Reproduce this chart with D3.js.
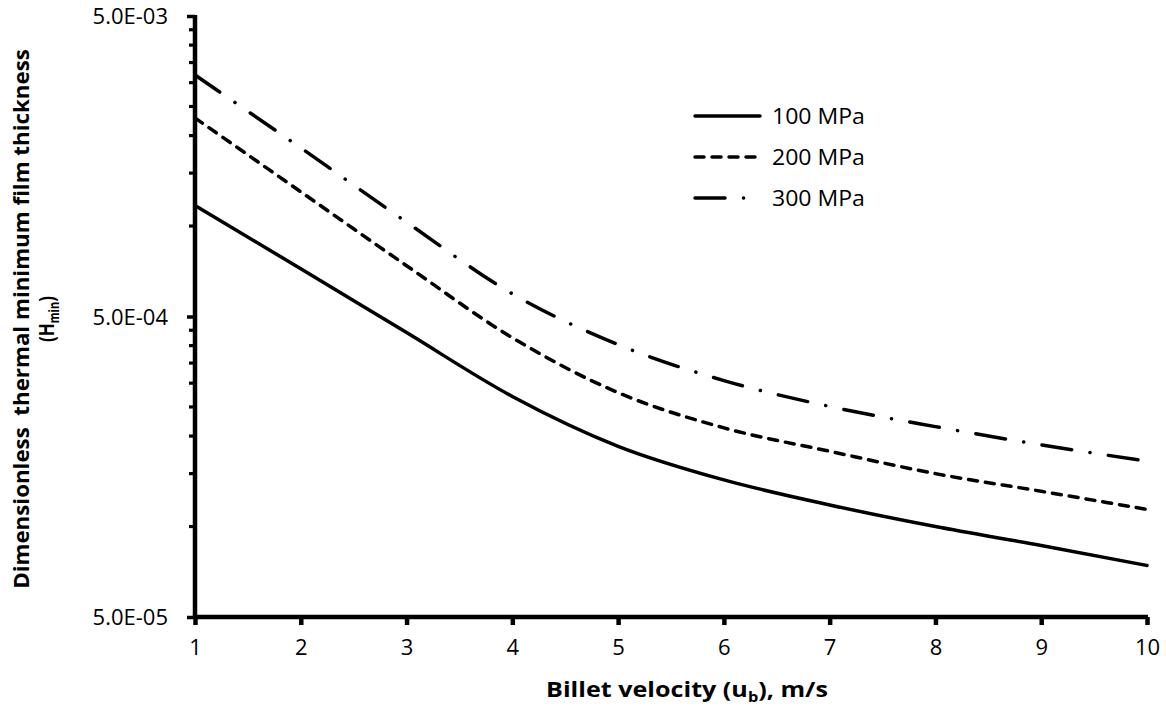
<!DOCTYPE html>
<html>
<head>
<meta charset="utf-8">
<script src="https://cdn.jsdelivr.net/npm/d3@7/dist/d3.min.js"></script>
<style>
  html, body { margin: 0; padding: 0; background: #fff; }
  svg { display: block; font-family: "Open Sans", Lato, sans-serif; }
</style>
</head>
<body>
<svg id="chart" width="1166" height="710"></svg>
<script>
// ---- data ----
const velocities = [1, 2, 3, 4, 5, 6, 7, 8, 9, 10];
const h100 = [1.17e-3, 7.21e-4, 4.42e-4, 2.71e-4, 1.85e-4, 1.43e-4, 1.18e-4, 1.00e-4, 8.65e-5, 7.42e-5];
const h200 = [2.29e-3, 1.30e-3, 7.38e-4, 4.25e-4, 2.79e-4, 2.13e-4, 1.78e-4, 1.50e-4, 1.31e-4, 1.14e-4];
const h300 = [3.18e-3, 1.82e-3, 1.03e-3, 5.95e-4, 4.03e-4, 3.06e-4, 2.51e-4, 2.15e-4, 1.87e-4, 1.65e-4];
const seriesNames = ["100 MPa", "200 MPa", "300 MPa"];
const xTicks = [1, 2, 3, 4, 5, 6, 7, 8, 9, 10];
const yMajorTicks = [5e-5, 5e-4, 5e-3];
const yTickLabels = ["5.0E-05", "5.0E-04", "5.0E-03"];
const yMinorFactors = [2, 3, 4, 5, 6, 7, 8, 9];
const xTitleParts = ["Billet velocity (u", "b", "), m/s"];
const yTitle1 = "Dimensionless\u00a0\u00a0thermal minimum film thickness";
const yTitle2Parts = ["(H", "min", ")"];

// ---- layout ----
const L = 195, R = 1147, T = 16, B = 617;
const svg = d3.select("#chart");
const x = d3.scaleLinear().domain([1, 10]).range([L, R]);
const y = d3.scaleLog().domain([5e-5, 5e-3]).range([B, T]);

const styles = [
  { dash: null },
  { dash: "9,8" },
  { dash: "30,18.5,0.1,18.5" }
];
const data = [h100, h200, h300];

// text helper: draws text stretched horizontally to a target width
function fitText(parent, cx, cy, anchor, size, weight, parts, targetW, rotate) {
  const g = parent.append("g");
  const t = g.append("text").attr("text-anchor", anchor)
    .attr("font-size", size).attr("font-weight", weight).attr("fill", "#000");
  parts.forEach((p, i) => {
    const sp = t.append("tspan").text(p);
    if (i % 2 === 1) sp.attr("font-size", size * 0.65).attr("dy", size * 0.22);
    else if (i > 0) sp.attr("dy", -size * 0.22);
  });
  const w = t.node().getBBox().width || targetW;
  const s = targetW / w;
  g.attr("transform", `translate(${cx},${cy})` + (rotate ? ` rotate(${rotate})` : "") + ` scale(${s},1)`);
  return g;
}

// minor ticks
const minorVals = [];
[5e-5, 5e-4].forEach(m => yMinorFactors.forEach(k => minorVals.push(m * k)));
svg.append("g").selectAll("line")
  .data(minorVals.filter(v => v < 5e-3 && v > 5e-5 && !yMajorTicks.includes(v)))
  .join("line")
  .attr("x1", L - 6).attr("x2", L)
  .attr("y1", d => y(d)).attr("y2", d => y(d))
  .attr("stroke", "#000").attr("stroke-width", 3.2);

// y axis
const yAxis = d3.axisLeft(y).tickValues(yMajorTicks)
  .tickFormat((d, i) => yTickLabels[i]).tickSize(8).tickPadding(19);
const gy = svg.append("g").attr("transform", `translate(${L},0)`).call(yAxis);
gy.select(".domain").remove();
gy.attr("font-family", null).attr("font-size", 22);
gy.selectAll(".tick line").attr("stroke", "#000").attr("stroke-width", 3.5);
gy.selectAll(".tick text").attr("fill", "#000").attr("dy", "0.36em");

// x axis
const xAxis = d3.axisBottom(x).tickValues(xTicks).tickSize(8).tickPadding(14);
const gx = svg.append("g").attr("transform", `translate(0,${B})`).call(xAxis);
gx.select(".domain").remove();
gx.attr("font-family", null).attr("font-size", 22);
gx.selectAll(".tick line").attr("stroke", "#000").attr("stroke-width", 4.5);
gx.selectAll(".tick text").attr("fill", "#000");

// axis lines
svg.append("line").attr("x1", L).attr("x2", L).attr("y1", T - 1).attr("y2", B + 2)
  .attr("stroke", "#000").attr("stroke-width", 4.5);
svg.append("line").attr("x1", L - 2).attr("x2", R + 1).attr("y1", B).attr("y2", B)
  .attr("stroke", "#000").attr("stroke-width", 4.5);

// series
const line = d3.line().x((d, i) => x(velocities[i])).y(d => y(d)).curve(d3.curveMonotoneX);
data.forEach((s, i) => {
  svg.append("path").datum(s).attr("d", line)
    .attr("fill", "none").attr("stroke", "#000").attr("stroke-width", 3.5)
    .attr("stroke-linecap", "round")
    .attr("stroke-dasharray", styles[i].dash);
});

// legend
const legY = [116, 157, 198];
seriesNames.forEach((n, i) => {
  svg.append("line").attr("x1", 695).attr("x2", 760).attr("y1", legY[i]).attr("y2", legY[i])
    .attr("stroke", "#000").attr("stroke-width", 3.5).attr("stroke-linecap", "round")
    .attr("stroke-dasharray", styles[i].dash);
  fitText(svg, 772, legY[i] + 7.5, "start", 22, "normal", [n], 93);
});

// x title
fitText(svg, 687, 697, "middle", 22, "bold", xTitleParts, 282);

// y title
fitText(svg, 29, 319, "middle", 21, "bold", [yTitle1], 540, -90);
fitText(svg, 54, 319, "middle", 21, "bold", yTitle2Parts, 46, -90);
</script>
</body>
</html>
